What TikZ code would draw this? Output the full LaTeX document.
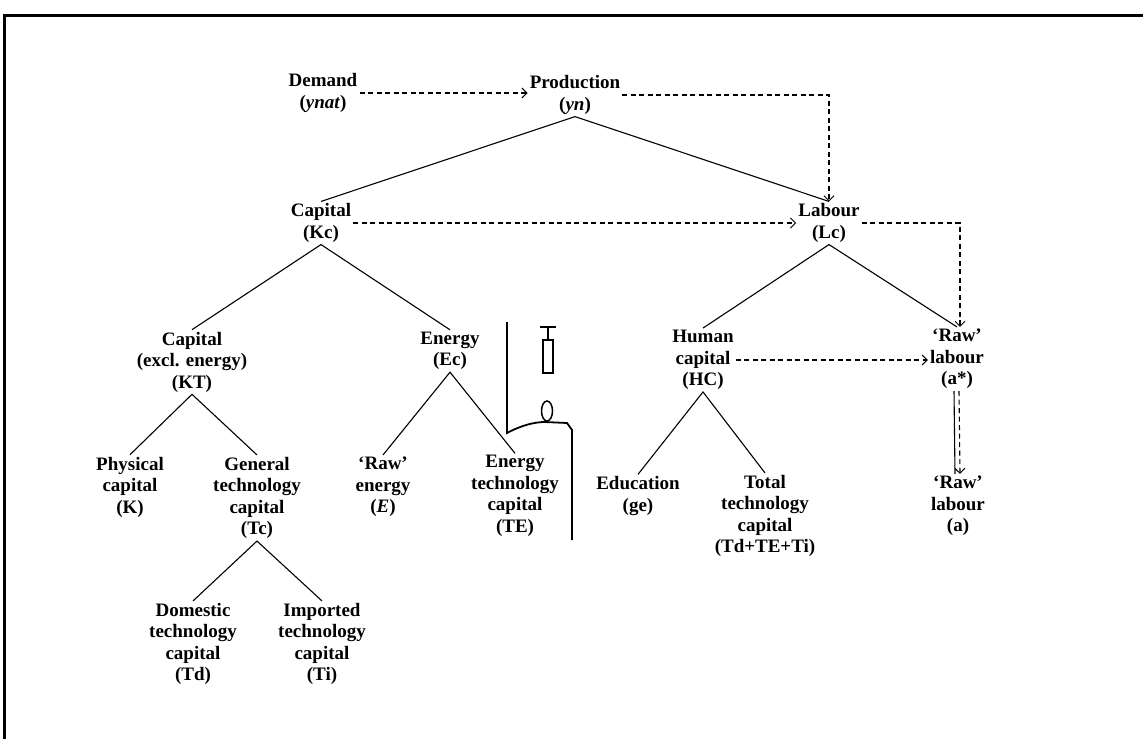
\documentclass[tikz,border=0pt]{standalone}
\usepackage{fontspec}
\setmainfont{Liberation Serif}
\usetikzlibrary{arrows.meta}
\begin{document}
\begin{tikzpicture}[x=1pt,y=-1pt,
  lbl/.style={align=center,inner sep=2pt,font=\fontsize{19}{21.5}\selectfont\bfseries},
  tree/.style={line width=1.1pt},
  flow/.style={line width=1.1pt,dash pattern=on 5pt off 3.5pt,
    -{Straight Barb[length=5pt,width=10pt,line width=1pt]}},
  frame/.style={line width=3pt},
  sketch/.style={line width=1.8pt}]
\useasboundingbox (0,0) rectangle (1143,739);
% frame
\draw[frame] (4.5,739) -- (4.5,15) -- (1143,15);
% nodes
\node[lbl] (dem)   at (323,93)  {Demand\\(\textit{ynat})};
\node[lbl] (prod)  at (575,95)  {Production\\(\textit{yn})};
\node[lbl] (kc)    at (321,223) {Capital\\(Kc)};
\node[lbl] (lab)   at (829,223) {Labour\\(Lc)};
\node[lbl] (kt)    at (192,362) {Capital\\(excl. energy)\\(KT)};
\node[lbl] (ec)    at (450,351) {Energy\\(Ec)};
\node[lbl] (hc)    at (703,360) {Human\\capital\\(HC)};
\node[lbl] (rawls) at (957,359) {‘Raw’\\labour\\(a*)};
\node[lbl] (phk)   at (130,487) {Physical\\capital\\(K)};
\node[lbl] (tc)    at (257,498) {General\\technology\\capital\\(Tc)};
\node[lbl] (rawe)  at (383,487) {‘Raw’\\energy\\(\textit{E})};
\node[lbl] (te)    at (515,496) {Energy\\technology\\capital\\(TE)};
\node[lbl] (ge)    at (638,496) {Education\\(ge)};
\node[lbl] (tot)   at (765,516) {Total\\technology\\capital\\(Td+TE+Ti)};
\node[lbl] (rawl)  at (958,506) {‘Raw’\\labour\\(a)};
\node[lbl] (td)    at (193,644) {Domestic\\technology\\capital\\(Td)};
\node[lbl] (ti)    at (322,644) {Imported\\technology\\capital\\(Ti)};
% tree connectors
\draw[tree] (kc.north) -- (prod.south) -- (lab.north);
\draw[tree] (kt.north) -- (kc.south) -- (ec.north);
\draw[tree] (hc.north) -- (lab.south) -- (rawls.north);
\draw[tree] (phk.north) -- (kt.south) -- (tc.north);
\draw[tree] (rawe.north) -- (ec.south) -- (te.north);
\draw[tree] (ge.north) -- (hc.south) -- (tot.north);
\draw[tree] (td.north) -- (tc.south) -- (ti.north);
\draw[tree] ([xshift=-3pt]rawls.south) -- ([xshift=-3pt]rawl.north);
% dashed flows
\draw[flow] (dem.east) -- (dem.east -| prod.west);
\draw[flow] (prod.east) -| (lab.north);
\draw[flow] (kc.east) -- (kc.east -| lab.west);
\draw[flow] (lab.east) -| ([xshift=3pt]rawls.north);
\draw[flow] (hc.east) -- (hc.east -| rawls.west);
\draw[flow] ([xshift=2pt]rawls.south) -- ([xshift=2pt]rawl.north);
% hand-drawn marks
\draw[sketch] (507,322) -- (507,433) .. controls (522,425) and (535,422) .. (545,422) -- (567,423) -- (572,430) -- (572,540);
\draw[line width=1.5pt] (547,411) ellipse (5.5 and 10);
\draw[line width=1.5pt] (543,340) rectangle (553,373);
\draw[line width=1.5pt] (540,327) -- (556,327) (548,327) -- (548,340);
\end{tikzpicture}
\end{document}
